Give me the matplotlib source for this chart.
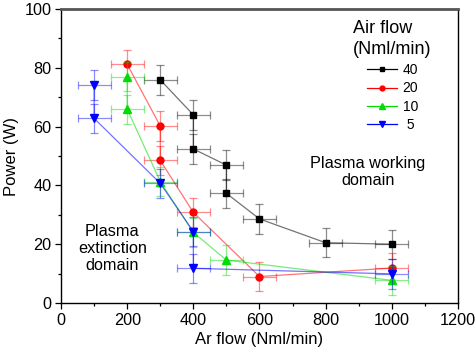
import matplotlib
matplotlib.use("Agg")
import matplotlib.pyplot as plt
from matplotlib.ticker import MultipleLocator

plt.rcParams['font.family'] = ['Liberation Sans', 'DejaVu Sans']

x40 = [300, 400, 400, 500, 500, 600, 800, 1000]
y40 = [75.9, 64.0, 52.4, 46.9, 37.3, 28.6, 20.5, 20.0]
x20 = [200, 300, 300, 400, 600, 1000]
y20 = [81.2, 60.2, 48.5, 30.8, 9.0, 11.9]
x10 = [200, 200, 300, 400, 500, 1000]
y10 = [77.0, 65.9, 41.3, 24.0, 14.6, 7.7]
x5 = [100, 100, 300, 400, 400, 1000]
y5 = [74.1, 62.8, 40.7, 24.3, 11.8, 9.9]
xerr = 50
yerr = 5
labels = ['40', '20', '10', ' 5']

fig = plt.figure(figsize=(4.77, 3.55), dpi=100)
ax = fig.add_axes([0.128, 0.1465, 0.832, 0.828])

series = [(x40, y40, 'black', 's', 4.0, labels[0]),
          (x20, y20, 'red', 'o', 5.0, labels[1]),
          (x10, y10, '#00dd00', '^', 5.5, labels[2]),
          (x5, y5, 'blue', 'v', 5.5, labels[3])]
handles = []
for xs, ys, c, m, ms, lab in series:
    ax.errorbar(xs, ys, xerr=xerr, yerr=yerr, fmt='none', ecolor=c, alpha=0.45,
                elinewidth=0.9, capsize=3, capthick=0.9)
    ax.plot(xs, ys, '-', color=c, alpha=0.55, lw=0.9)
    ax.plot(xs, ys, m, color=c, ms=ms, ls='none')
    h, = ax.plot([], [], '-', color=c, lw=0.9, marker=m, ms=ms * 0.7, mfc=c, mec=c)
    handles.append(h)

ax.set_xlim(0, 1200)
ax.set_ylim(0, 100)
ax.xaxis.set_major_locator(MultipleLocator(200))
ax.xaxis.set_minor_locator(MultipleLocator(100))
ax.yaxis.set_major_locator(MultipleLocator(20))
ax.yaxis.set_minor_locator(MultipleLocator(10))
ax.tick_params(which='both', direction='out', labelsize=11.7, width=0.9)
ax.tick_params(which='major', length=4, pad=3)
ax.tick_params(which='minor', length=2.5)
for s in ax.spines.values():
    s.set_linewidth(1.0)
ax.spines['top'].set_linewidth(2.0)
ax.spines['top'].set_color('#555555')

ax.set_xlabel('Ar flow (Nml/min)', fontsize=12, labelpad=3)
ax.set_ylabel('Power (W)', fontsize=12, labelpad=4)

ax.text(927, 44.5, 'Plasma working\ndomain', ha='center', va='center', fontsize=11.7, linespacing=1.15)
ax.text(155, 18.5, 'Plasma\nextinction\ndomain', ha='center', va='center', fontsize=11.7, linespacing=1.15)

leg = ax.legend(handles=handles, labels=labels, title='Air flow\n(Nml/min)', loc='upper center',
                bbox_to_anchor=(0.835, 0.963), frameon=False, fontsize=10, title_fontsize=13,
                handlelength=2.2, handletextpad=0.4, labelspacing=0.32, borderaxespad=0.0,
                borderpad=0.0)
leg._legend_box.align = 'center'
leg.get_title().set_linespacing(1.35)

fig.savefig('out.png', dpi=100)
